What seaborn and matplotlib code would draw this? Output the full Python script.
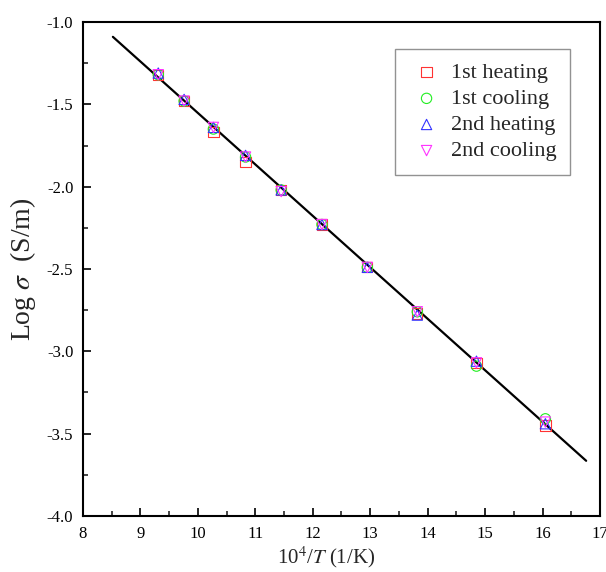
import numpy as np
import pandas as pd
import matplotlib
matplotlib.use("Agg")
import matplotlib.pyplot as plt
from matplotlib.ticker import MultipleLocator
import seaborn as sns

# Inverse temperature (10^4/T, 1/K)
inv_t = [9.31, 9.76, 10.27, 10.83, 11.45, 12.16, 12.95, 13.82, 14.85, 16.05]

# log conductivity for each run (S/m)
heat1 = [-1.32, -1.48, -1.67, -1.85, -2.02, -2.23, -2.49, -2.77, -3.07, -3.45]
cool1 = [-1.32, -1.48, -1.65, -1.82, -2.02, -2.23, -2.49, -2.76, -3.09, -3.41]
heat2 = [-1.31, -1.47, -1.64, -1.81, -2.02, -2.23, -2.49, -2.78, -3.06, -3.44]
cool2 = [-1.32, -1.48, -1.64, -1.82, -2.03, -2.23, -2.49, -2.76, -3.07, -3.43]

series_names = ["1st heating", "1st cooling", "2nd heating", "2nd cooling"]
series_colors = ["#ff3333", "#22ee22", "#3333ff", "#ff33ff"]
series_markers = ["s", "o", "^", "v"]

# Arrhenius fit line end points
fit_x = [8.52, 16.76]
fit_y = [-1.09, -3.665]

sns.set_theme(style="white")
plt.rcParams["font.family"] = ["Liberation Serif", "DejaVu Serif"]
plt.rcParams["mathtext.fontset"] = "stix"

fig = plt.figure(figsize=(6.06, 5.72), dpi=100)
ax = fig.add_axes([0.137, 0.098, 0.853, 0.8635])

sns.lineplot(x=fit_x, y=fit_y, ax=ax, color="black", linewidth=1.6, legend=False)

for name, vals, col, mk in zip(series_names, [heat1, cool1, heat2, cool2],
                               series_colors, series_markers):
    df = pd.DataFrame({"x": inv_t, "y": vals})
    sns.scatterplot(data=df, x="x", y="y", ax=ax, marker=mk, s=55,
                    facecolors="none", edgecolor=col, linewidth=0.8,
                    label=name, zorder=3)

ax.set_xlim(8, 17)
ax.set_ylim(-4.0, -1.0)
ax.xaxis.set_major_locator(MultipleLocator(1))
ax.xaxis.set_minor_locator(MultipleLocator(0.5))
ax.yaxis.set_major_locator(MultipleLocator(0.5))
ax.yaxis.set_minor_locator(MultipleLocator(0.25))
ax.set_yticks(ax.get_yticks())
ax.set_yticklabels([f"{v:.1f}" for v in ax.get_yticks()])
ax.set_ylim(-4.0, -1.0)
ax.tick_params(axis="both", which="major", direction="in", length=6, width=1.2,
               labelsize=12, bottom=True, left=True, top=False, right=False,
               pad=7, colors="black")
ax.tick_params(axis="both", which="minor", direction="in", length=3.5, width=1.2,
               bottom=True, left=True, top=False, right=False)
for sp in ax.spines.values():
    sp.set_color("black")
    sp.set_linewidth(1.5)

ax.set_xlabel(r"10$^4$/$T$ (1/K)", fontsize=15, labelpad=4)
ax.xaxis.set_label_coords(0.47, -0.058)
ax.set_ylabel(r"Log $\sigma$  (S/m)", fontsize=20, labelpad=6)

leg = ax.legend(loc="upper right", bbox_to_anchor=(0.942, 0.945), fontsize=16,
                frameon=True, fancybox=False, edgecolor="#777777",
                borderpad=0.6, labelspacing=0.25, handletextpad=0.3,
                handlelength=1.6, borderaxespad=0, markerscale=1.0)
leg.get_frame().set_linewidth(1.0)

fig.savefig("out.png", dpi=100)
